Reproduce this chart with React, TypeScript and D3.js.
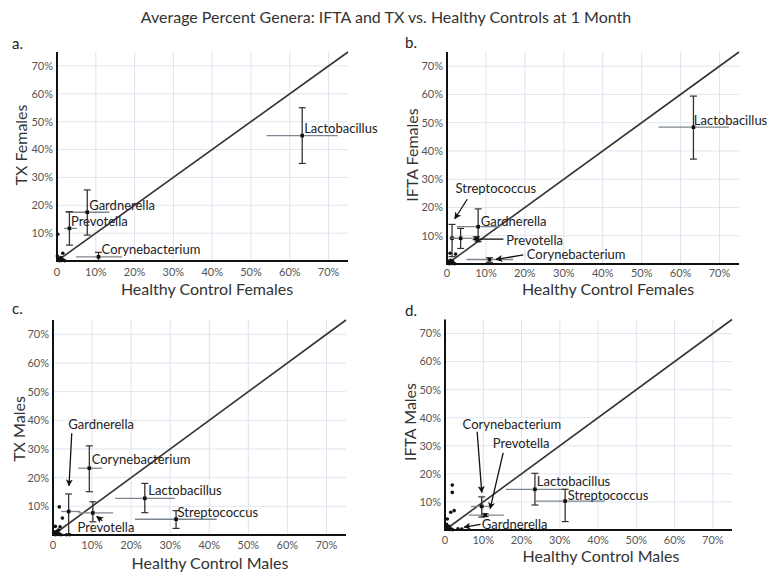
import React from "react";
import * as d3 from "d3";

// ---------- data ----------
const TITLE = "Average Percent Genera: IFTA and TX vs. Healthy Controls at 1 Month";
const TICK_VALUES = [10, 20, 30, 40, 50, 60, 70];
const TICK_LABELS = ["10%", "20%", "30%", "40%", "50%", "60%", "70%"];
const ZERO_LABEL = "0";
const DOMAIN: [number, number] = [0, 75];

type Pt = { name: string; x: number; xlo: number; xhi: number; y: number; ylo: number; yhi: number };
type Lbl = { text: string; x: number; y: number };
type Arr = { x1: number; y1: number; x2: number; y2: number };

// Panel a: TX Females vs Healthy Control Females
const pointsA: Pt[] = [
  { name: "Lactobacillus", x: 63.2, xlo: 54, xhi: 72.3, y: 45, ylo: 35, yhi: 55 },
  { name: "Gardnerella", x: 7.8, xlo: 2.2, xhi: 13.5, y: 17.5, ylo: 9.3, yhi: 25.5 },
  { name: "Prevotella", x: 3.2, xlo: 1.8, xhi: 5.1, y: 11.7, ylo: 5.7, yhi: 17.7 },
  { name: "Corynebacterium", x: 10.7, xlo: 4.9, xhi: 16.8, y: 1.5, ylo: 0, yhi: 3.1 },
];
const dotsA: [number, number][] = [
  [0.2, 9.6], [0.1, 1.8], [1.5, 2.8], [0.3, 0.3], [0.8, 0.6], [1.2, 0.2], [0.5, 1.0],
  [1.6, 0.4], [0.2, 0.8], [2.0, 0.1], [1.0, 1.2], [0.6, 0.1],
];
const labelsA: Lbl[] = [
  { text: "Lactobacillus", x: 63.7, y: 47.4 },
  { text: "Gardnerella", x: 8.3, y: 20.1 },
  { text: "Prevotella", x: 3.6, y: 14.1 },
  { text: "Corynebacterium", x: 11.5, y: 4.3 },
];
const arrowsA: Arr[] = [];

// Panel b: IFTA Females vs Healthy Control Females
const pointsB: Pt[] = [
  { name: "Lactobacillus", x: 63.3, xlo: 54.3, xhi: 72.4, y: 48.4, ylo: 37.1, yhi: 59.4 },
  { name: "Gardnerella", x: 8.0, xlo: 2.5, xhi: 13.6, y: 13.2, ylo: 7.9, yhi: 19.5 },
  { name: "Streptococcus", x: 1.3, xlo: 0.6, xhi: 2.4, y: 9.1, ylo: 2.6, yhi: 14.0 },
  { name: "Other", x: 3.5, xlo: 1.0, xhi: 6.6, y: 9.1, ylo: 5.5, yhi: 12.6 },
  { name: "Prevotella", x: 7.5, xlo: 7.0, xhi: 8.0, y: 9.1, ylo: 8.6, yhi: 9.6 },
  { name: "Corynebacterium", x: 10.9, xlo: 5.0, xhi: 17.0, y: 1.6, ylo: 0.6, yhi: 2.2 },
];
const dotsB: [number, number][] = [
  [0.8, 3.8], [2.2, 3.5], [0.3, 0.3], [0.8, 0.6], [1.2, 0.2], [0.5, 1.0], [1.6, 0.4],
  [0.2, 0.9], [2.0, 0.1], [1.0, 1.3], [0.6, 0.1], [1.4, 1.0],
];
const labelsB: Lbl[] = [
  { text: "Lactobacillus", x: 63.4, y: 50.9 },
  { text: "Streptococcus", x: 2.2, y: 26.8 },
  { text: "Gardnerella", x: 8.7, y: 15.0 },
  { text: "Prevotella", x: 15.2, y: 8.4 },
  { text: "Corynebacterium", x: 20.5, y: 3.4 },
];
const arrowsB: Arr[] = [
  { x1: 5.2, y1: 22.9, x2: 2.0, y2: 16.0 },
  { x1: 14.5, y1: 8.8, x2: 6.8, y2: 8.8 },
  { x1: 19.6, y1: 3.2, x2: 12.6, y2: 1.6 },
];

// Panel c: TX Males vs Healthy Control Males
const pointsC: Pt[] = [
  { name: "Corynebacterium", x: 9.3, xlo: 6.5, xhi: 12.5, y: 23.3, ylo: 15.1, yhi: 31.1 },
  { name: "Lactobacillus", x: 23.5, xlo: 15.9, xhi: 31.2, y: 12.8, ylo: 7.8, yhi: 18.0 },
  { name: "Streptococcus", x: 31.5, xlo: 21.0, xhi: 41.9, y: 5.5, ylo: 2.3, yhi: 8.5 },
  { name: "Gardnerella", x: 4.0, xlo: 2.1, xhi: 7.0, y: 8.2, ylo: 0, yhi: 14.3 },
  { name: "Prevotella", x: 10.2, xlo: 6.5, xhi: 15.4, y: 7.7, ylo: 4.6, yhi: 11.6 },
];
const dotsC: [number, number][] = [
  [1.6, 9.8], [2.4, 5.9], [1.8, 2.9], [0.6, 3.0], [3.5, 0.1], [4.3, 0.1], [0.3, 0.3],
  [0.8, 0.6], [1.2, 0.2], [0.5, 1.0], [1.6, 0.4], [0.2, 0.9], [2.0, 0.1], [1.0, 1.3],
  [1.4, 1.7], [0.6, 0.1],
];
const labelsC: Lbl[] = [
  { text: "Gardnerella", x: 3.9, y: 38.4 },
  { text: "Corynebacterium", x: 9.9, y: 26.4 },
  { text: "Lactobacillus", x: 24.4, y: 15.7 },
  { text: "Streptococcus", x: 31.9, y: 7.8 },
  { text: "Prevotella", x: 6.3, y: 2.7 },
];
const arrowsC: Arr[] = [
  { x1: 4.8, y1: 35.5, x2: 4.1, y2: 17.2 },
  { x1: 12.6, y1: 5.0, x2: 11.2, y2: 6.5 },
];

// Panel d: IFTA Males vs Healthy Control Males
const pointsD: Pt[] = [
  { name: "Lactobacillus", x: 23.5, xlo: 15.9, xhi: 31.6, y: 14.5, ylo: 8.9, yhi: 20.2 },
  { name: "Streptococcus", x: 31.4, xlo: 23.7, xhi: 41.8, y: 10.3, ylo: 3.0, yhi: 14.5 },
  { name: "Corynebacterium", x: 9.6, xlo: 6.8, xhi: 12.0, y: 8.4, ylo: 4.6, yhi: 11.8 },
  { name: "Prevotella", x: 10.5, xlo: 6.2, xhi: 15.4, y: 5.3, ylo: 4.8, yhi: 5.8 },
];
const dotsD: [number, number][] = [
  [1.9, 16.0], [1.9, 13.4], [1.5, 6.3], [2.4, 6.9], [0.6, 3.9], [3.4, 0.4], [4.4, 0.3],
  [0.3, 0.3], [0.8, 0.6], [1.2, 0.2], [0.5, 1.0], [1.6, 0.4], [0.2, 0.9], [2.0, 0.1],
  [1.0, 1.3], [0.4, 2.0],
];
const labelsD: Lbl[] = [
  { text: "Corynebacterium", x: 4.6, y: 37.6 },
  { text: "Prevotella", x: 12.5, y: 30.9 },
  { text: "Lactobacillus", x: 24.0, y: 17.4 },
  { text: "Streptococcus", x: 32.1, y: 12.4 },
  { text: "Gardnerella", x: 9.6, y: 2.1 },
];
const arrowsD: Arr[] = [
  { x1: 8.4, y1: 35.0, x2: 9.6, y2: 13.4 },
  { x1: 15.2, y1: 27.5, x2: 11.8, y2: 7.6 },
  { x1: 9.3, y1: 2.0, x2: 5.0, y2: 1.0 },
];

// ---------- layout ----------
type PanelCfg = {
  letter: string; xLabel: string; yLabel: string;
  x0: number; x1: number; y0: number; y1: number; tickOffset: number;
  letterPos: [number, number]; xLabelPos: [number, number]; yLabelPos: [number, number];
  points: Pt[]; dots: [number, number][]; labels: Lbl[]; arrows: Arr[];
};

const PANELS: PanelCfg[] = [
  {
    letter: "a.", xLabel: "Healthy Control Females", yLabel: "TX Females",
    x0: 57, x1: 348, y0: 261, y1: 52, tickOffset: 11.5, letterPos: [12, 49], xLabelPos: [207, 295], yLabelPos: [21, 145],
    points: pointsA, dots: dotsA, labels: labelsA, arrows: arrowsA,
  },
  {
    letter: "b.", xLabel: "Healthy Control Females", yLabel: "IFTA Females",
    x0: 447, x1: 739, y0: 264, y1: 52, tickOffset: 9.5, letterPos: [405, 48], xLabelPos: [608, 295], yLabelPos: [412, 155],
    points: pointsB, dots: dotsB, labels: labelsB, arrows: arrowsB,
  },
  {
    letter: "c.", xLabel: "Healthy Control Males", yLabel: "TX Males",
    x0: 53, x1: 346, y0: 535, y1: 320, tickOffset: 10.5, letterPos: [12, 314], xLabelPos: [210, 569], yLabelPos: [19, 429],
    points: pointsC, dots: dotsC, labels: labelsC, arrows: arrowsC,
  },
  {
    letter: "d.", xLabel: "Healthy Control Males", yLabel: "IFTA Males",
    x0: 445, x1: 732, y0: 530, y1: 319.5, tickOffset: 10, letterPos: [405, 316], xLabelPos: [601, 562], yLabelPos: [410, 422],
    points: pointsD, dots: dotsD, labels: labelsD, arrows: arrowsD,
  },
];

const FONT = "Lato, 'Open Sans', sans-serif";

function Panel({ p, idx }: { p: PanelCfg; idx: number }) {
  const x = d3.scaleLinear().domain(DOMAIN).range([p.x0, p.x1]);
  const y = d3.scaleLinear().domain(DOMAIN).range([p.y0, p.y1]);
  const diag = d3.line<number>().x((v) => x(v)).y((v) => y(v));
  const markerId = `arrow${idx}`;
  return (
    <g>
      <defs>
        <marker id={markerId} viewBox="0 0 10 10" refX="9" refY="5" markerWidth="7" markerHeight="7" orient="auto-start-reverse" markerUnits="userSpaceOnUse">
          <path d="M0,0 L10,5 L0,10 L2.5,5 z" fill="#111" />
        </marker>
      </defs>
      {/* grid */}
      {TICK_VALUES.map((t) => (
        <g key={"g" + t}>
          <line x1={x(t)} x2={x(t)} y1={p.y0} y2={p.y1} stroke="#e2e2ee" strokeWidth={1} />
          <line x1={p.x0} x2={p.x1} y1={y(t)} y2={y(t)} stroke="#dfe6ef" strokeWidth={1} />
        </g>
      ))}
      {/* diagonal */}
      <path d={diag(DOMAIN) || ""} stroke="#3a3232" strokeWidth={1.6} fill="none" />
      {/* error bars */}
      {p.points.map((pt) => (
        <g key={pt.name}>
          <line x1={x(pt.xlo)} x2={x(pt.xhi)} y1={y(pt.y)} y2={y(pt.y)} stroke="#7c8690" strokeWidth={1.3} />
          <line x1={x(pt.x)} x2={x(pt.x)} y1={y(pt.ylo)} y2={y(pt.yhi)} stroke="#3b3030" strokeWidth={1.3} />
          <line x1={x(pt.x) - 3.5} x2={x(pt.x) + 3.5} y1={y(pt.ylo)} y2={y(pt.ylo)} stroke="#3b3030" strokeWidth={1.2} />
          <line x1={x(pt.x) - 3.5} x2={x(pt.x) + 3.5} y1={y(pt.yhi)} y2={y(pt.yhi)} stroke="#3b3030" strokeWidth={1.2} />
          <rect x={x(pt.x) - 1.8} y={y(pt.y) - 1.8} width={3.6} height={3.6} fill="#111" />
        </g>
      ))}
      {p.dots.map((d, i) => (
        <circle key={"d" + i} cx={x(d[0])} cy={y(d[1])} r={1.8} fill="#111" />
      ))}
      {/* axes */}
      <line x1={p.x0} x2={p.x1} y1={p.y0} y2={p.y0} stroke="#111" strokeWidth={2} />
      <line x1={p.x0} x2={p.x0} y1={p.y0 + 1} y2={p.y1} stroke="#111" strokeWidth={2} />
      {/* tick labels */}
      {TICK_VALUES.map((t, i) => (
        <g key={"t" + t} fontFamily={FONT} fontSize={11} fill="#555">
          <text x={p.x0 - 4} y={y(t)} dy="0.35em" textAnchor="end">{TICK_LABELS[i]}</text>
          <text x={x(t)} y={p.y0 + p.tickOffset} dy="0.35em" textAnchor="middle">{TICK_LABELS[i]}</text>
        </g>
      ))}
      <text x={p.x0} y={p.y0 + p.tickOffset} dy="0.35em" textAnchor="middle" fontFamily={FONT} fontSize={11} fill="#555">{ZERO_LABEL}</text>
      {/* annotations */}
      {p.arrows.map((a, i) => (
        <line key={"a" + i} x1={x(a.x1)} y1={y(a.y1)} x2={x(a.x2)} y2={y(a.y2)} stroke="#111" strokeWidth={1.3} markerEnd={`url(#${markerId})`} />
      ))}
      {p.labels.map((l) => (
        <text key={l.text} x={x(l.x)} y={y(l.y)} dy="0.35em" fontFamily={FONT} fontSize={13} fill="#222">{l.text}</text>
      ))}
      {/* panel labels */}
      <text x={p.letterPos[0]} y={p.letterPos[1]} fontFamily={FONT} fontSize={15} fill="#222">{p.letter}</text>
      <text x={p.xLabelPos[0]} y={p.xLabelPos[1]} textAnchor="middle" fontFamily={FONT} fontSize={16} fill="#333">{p.xLabel}</text>
      <text transform={`translate(${p.yLabelPos[0]},${p.yLabelPos[1]}) rotate(-90)`} dy="0.35em" textAnchor="middle" fontFamily={FONT} fontSize={16} fill="#333">{p.yLabel}</text>
    </g>
  );
}

export default function App() {
  return (
    <svg width={773} height={576} style={{ position: "absolute", left: 0, top: 0, background: "#fff" }}>
      <rect width={773} height={576} fill="#fff" />
      <text x={386} y={23} textAnchor="middle" fontFamily={FONT} fontSize={16} fill="#333">{TITLE}</text>
      {PANELS.map((p, i) => (
        <Panel key={p.letter} p={p} idx={i} />
      ))}
    </svg>
  );
}
